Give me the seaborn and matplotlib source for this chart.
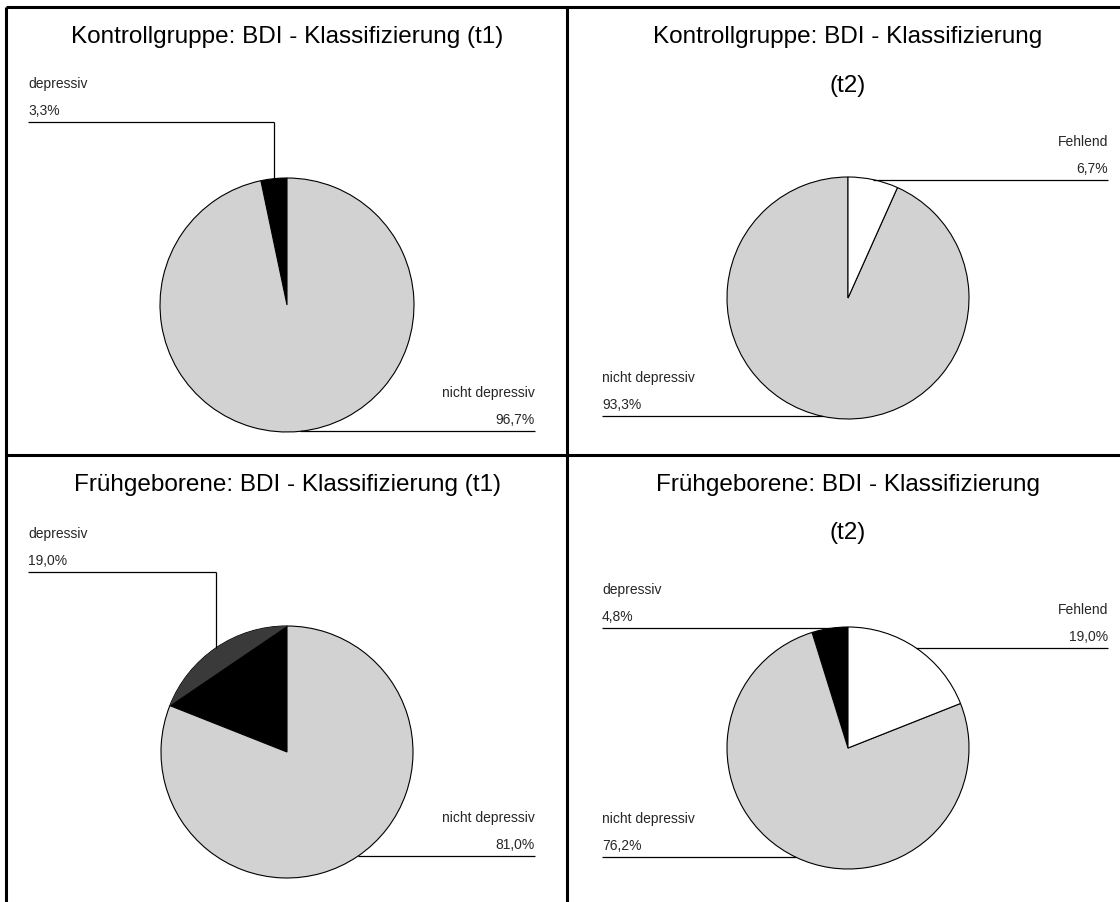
import numpy as np
import matplotlib
matplotlib.use("Agg")
import matplotlib.pyplot as plt
import seaborn as sns

sns.set_theme(style="white")
plt.rcParams["font.family"] = ["Liberation Sans", "DejaVu Sans"]

# Categories in drawing order (counter-clockwise from 12 o'clock)
categories = ["depressiv", "nicht depressiv", "Fehlend"]

# Percentages per panel (None = category absent)
kontroll_t1 = [3.3, 96.7, None]
kontroll_t2 = [None, 93.3, 6.7]
frueh_t1 = [19.0, 81.0, None]
frueh_t2 = [4.8, 76.2, 19.0]

titles = [
    ["Kontrollgruppe: BDI - Klassifizierung (t1)"],
    ["Kontrollgruppe: BDI - Klassifizierung", "(t2)"],
    ["Frühgeborene: BDI - Klassifizierung (t1)"],
    ["Frühgeborene: BDI - Klassifizierung", "(t2)"],
]
panel_values = [kontroll_t1, kontroll_t2, frueh_t1, frueh_t2]

slice_colors = {"depressiv": "#000000", "nicht depressiv": "#d2d2d2", "Fehlend": "#ffffff"}

W, H = 1120, 902
fig = plt.figure(figsize=(W / 100, H / 100), dpi=100)
fig.patch.set_facecolor("white")

# Full-figure overlay in pixel units for frames, titles and callouts
over = fig.add_axes([0, 0, 1, 1], zorder=5)
over.set_xlim(0, W)
over.set_ylim(H, 0)
over.axis("off")
over.patch.set_alpha(0)

# Frame lines between panels
frame_kw = dict(color="black", lw=2.2, solid_capstyle="butt")
over.plot([6, W], [7, 7], **frame_kw)
over.plot([6, 6], [7, H], **frame_kw)
over.plot([567, 567], [7, H], **frame_kw)
over.plot([6, W], [455, 455], **frame_kw)

# Layout per panel: pie centre/radius, title line centres, label columns
layout = [
    dict(c=(287, 305), r=127, tx=287, ty=[37], lx=28, rx=535),
    dict(c=(848, 298), r=121, tx=848, ty=[37, 86], lx=602, rx=1108),
    dict(c=(287, 752), r=126, tx=287, ty=[485], lx=28, rx=535),
    dict(c=(848, 748), r=121, tx=848, ty=[485, 533], lx=602, rx=1108),
]
# Callouts that rise above the pie before turning to the label
elbow_y = {(0, "depressiv"): 122, (2, "depressiv"): 572}

line_kw = dict(color="black", lw=0.9, solid_capstyle="butt")
label_size = 10.0

for i, (vals, title, lay) in enumerate(zip(panel_values, titles, layout)):
    cx, cy = lay["c"]
    r = lay["r"]
    ax = fig.add_axes([(cx - r) / W, 1 - (cy + r) / H, 2 * r / W, 2 * r / H])
    names = [c for c, v in zip(categories, vals) if v is not None]
    sizes = [v for v in vals if v is not None]
    wedges, _ = ax.pie(
        sizes,
        startangle=90,
        counterclock=True,
        colors=[slice_colors[n] for n in names],
        wedgeprops=dict(edgecolor="black", linewidth=0.8),
    )
    ax.set_xlim(-1.0, 1.0)
    ax.set_ylim(-1.0, 1.0)
    ax.axis("off")

    # Darker rim segment on wide black slices
    for w, n in zip(wedges, names):
        if n == "depressiv" and (w.theta2 - w.theta1) > 40:
            t = np.radians(np.linspace(w.theta1, w.theta2, 80))
            ax.fill(np.cos(t), np.sin(t), color="#3a3a3a", lw=0, zorder=3)

    for line, y in zip(title, lay["ty"]):
        over.text(lay["tx"], y, line, ha="center", va="center",
                  fontsize=17.5, color="black")

    for w, n, v in zip(wedges, names, sizes):
        mid = np.radians((w.theta1 + w.theta2) / 2)
        ex = cx + r * np.cos(mid)
        ey = cy - r * np.sin(mid)
        ly = elbow_y.get((i, n), ey)
        if np.cos(mid) < 0:
            x0 = lay["lx"]
            over.plot([x0, ex], [ly, ly], **line_kw)
            ha = "left"
        else:
            x0 = lay["rx"]
            over.plot([ex, x0], [ly, ly], **line_kw)
            ha = "right"
        if ly != ey:
            over.plot([ex, ex], [ly, ey], **line_kw)
        over.text(x0, ly - 38, n, ha=ha, va="center", fontsize=label_size)
        over.text(x0, ly - 11, f"{v:.1f}%".replace(".", ","), ha=ha,
                  va="center", fontsize=label_size)

fig.savefig("out.png", dpi=100, facecolor="white")
